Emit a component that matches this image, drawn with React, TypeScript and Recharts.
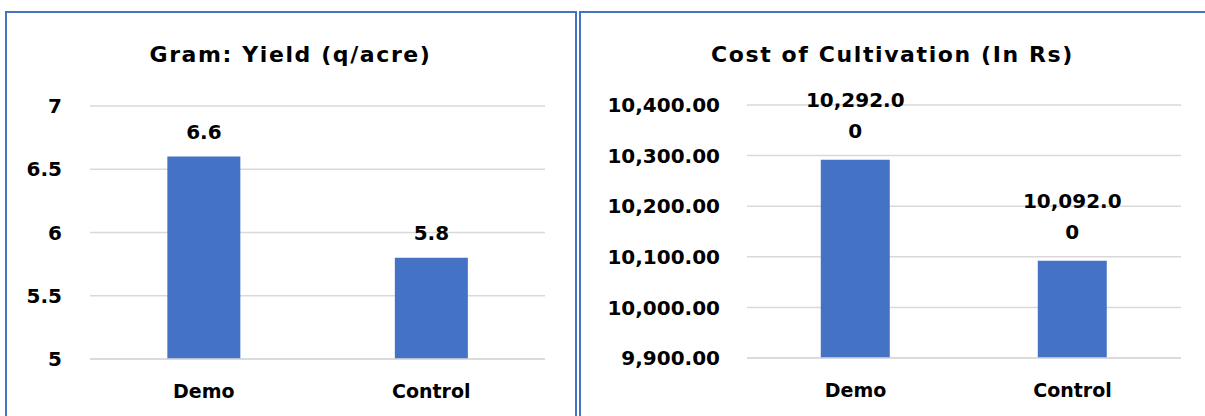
import React from "react";
import { BarChart, Bar, XAxis, YAxis, CartesianGrid, LabelList } from "recharts";

const categories = ["Demo", "Control"];
const yieldValues = [6.6, 5.8];
const costValues = [10292, 10092];
const yieldTicks = [5, 5.5, 6, 6.5, 7];
const costTicks = [9900, 10000, 10100, 10200, 10300, 10400];

const yieldData = categories.map((name, i) => ({ name, value: yieldValues[i] }));
const costData = categories.map((name, i) => ({ name, value: costValues[i] }));

const FONT = '"Comic Sans MS", "DejaVu Sans", sans-serif';
const BLUE = "#4472C4";
const GRID = "#d9d9d9";

const fmtCost = (v: number) =>
  v.toLocaleString("en-US", { minimumFractionDigits: 2, maximumFractionDigits: 2 });

// Excel wraps the long labels, last "0" drops to the next line
function CostLabel(props: any) {
  const { x, y, width, value } = props;
  const s = fmtCost(value);
  const head = s.slice(0, -1);
  const tail = s.slice(-1);
  const cx = x + width / 2;
  return (
    <text x={cx} y={y} textAnchor="middle" fontFamily={FONT} fontWeight="bold" fontSize={20} fill="#000">
      <tspan x={cx} y={y - 53}>{head}</tspan>
      <tspan x={cx} y={y - 22}>{tail}</tspan>
    </text>
  );
}

const tickStyle = { fontFamily: FONT, fontWeight: "bold", fontSize: 20, fill: "#000" };
const catStyle = { fontFamily: FONT, fontWeight: "bold", fontSize: 19, fill: "#000" };

const titleStyle: React.CSSProperties = {
  position: "absolute",
  top: 42,
  width: "100%",
  textAlign: "center",
  fontFamily: FONT,
  fontWeight: "bold",
  fontSize: 22,
  letterSpacing: 1.6,
  color: "#000",
};

export default function App() {
  return (
    <div style={{ position: "absolute", left: 0, top: 0, width: 1205, height: 416, background: "#fff", overflow: "hidden" }}>
      <div style={{ position: "absolute", left: 5, top: 11, width: 568, height: 430, border: `2px solid ${BLUE}` }} />
      <div style={{ position: "absolute", left: 579, top: 11, width: 640, height: 430, border: `2px solid ${BLUE}` }} />

      <div style={{ position: "absolute", left: 0, top: 0, width: 577, height: 416 }}>
        <div style={{ ...titleStyle, left: 2 }}>Gram: Yield (q/acre)</div>
        <BarChart width={577} height={416} data={yieldData} margin={{ top: 106, right: 32, bottom: 27, left: 0 }} barCategoryGap="34%">
          <CartesianGrid vertical={false} stroke={GRID} strokeWidth={1.5} />
          <XAxis dataKey="name" axisLine={{ stroke: GRID, strokeWidth: 1.5 }} tickLine={false} tickSize={0} tickMargin={26} height={30} tick={catStyle} />
          <YAxis domain={[5, 7]} ticks={yieldTicks} axisLine={false} tickLine={false} tickSize={0} tickMargin={28} width={90} tick={tickStyle} />
          <Bar dataKey="value" fill={BLUE} isAnimationActive={false}>
            <LabelList dataKey="value" position="top" offset={18} style={{ fontFamily: FONT, fontWeight: "bold", fontSize: 20, fill: "#000" }} formatter={(v: any) => Number(v).toFixed(1)} />
          </Bar>
        </BarChart>
      </div>

      <div style={{ position: "absolute", left: 580, top: 0, width: 625, height: 416 }}>
        <div style={{ ...titleStyle, left: 0 }}>Cost of Cultivation (In Rs)</div>
        <BarChart width={625} height={416} data={costData} margin={{ top: 105, right: 24, bottom: 28, left: 0 }} barCategoryGap="34%">
          <CartesianGrid vertical={false} stroke={GRID} strokeWidth={1.5} />
          <XAxis dataKey="name" axisLine={{ stroke: GRID, strokeWidth: 1.5 }} tickLine={false} tickSize={0} tickMargin={26} height={30} tick={catStyle} />
          <YAxis domain={[9900, 10400]} ticks={costTicks} axisLine={false} tickLine={false} tickSize={0} tickMargin={27} width={167} tick={tickStyle} tickFormatter={fmtCost} />
          <Bar dataKey="value" fill={BLUE} isAnimationActive={false}>
            <LabelList dataKey="value" content={<CostLabel />} />
          </Bar>
        </BarChart>
      </div>
    </div>
  );
}
